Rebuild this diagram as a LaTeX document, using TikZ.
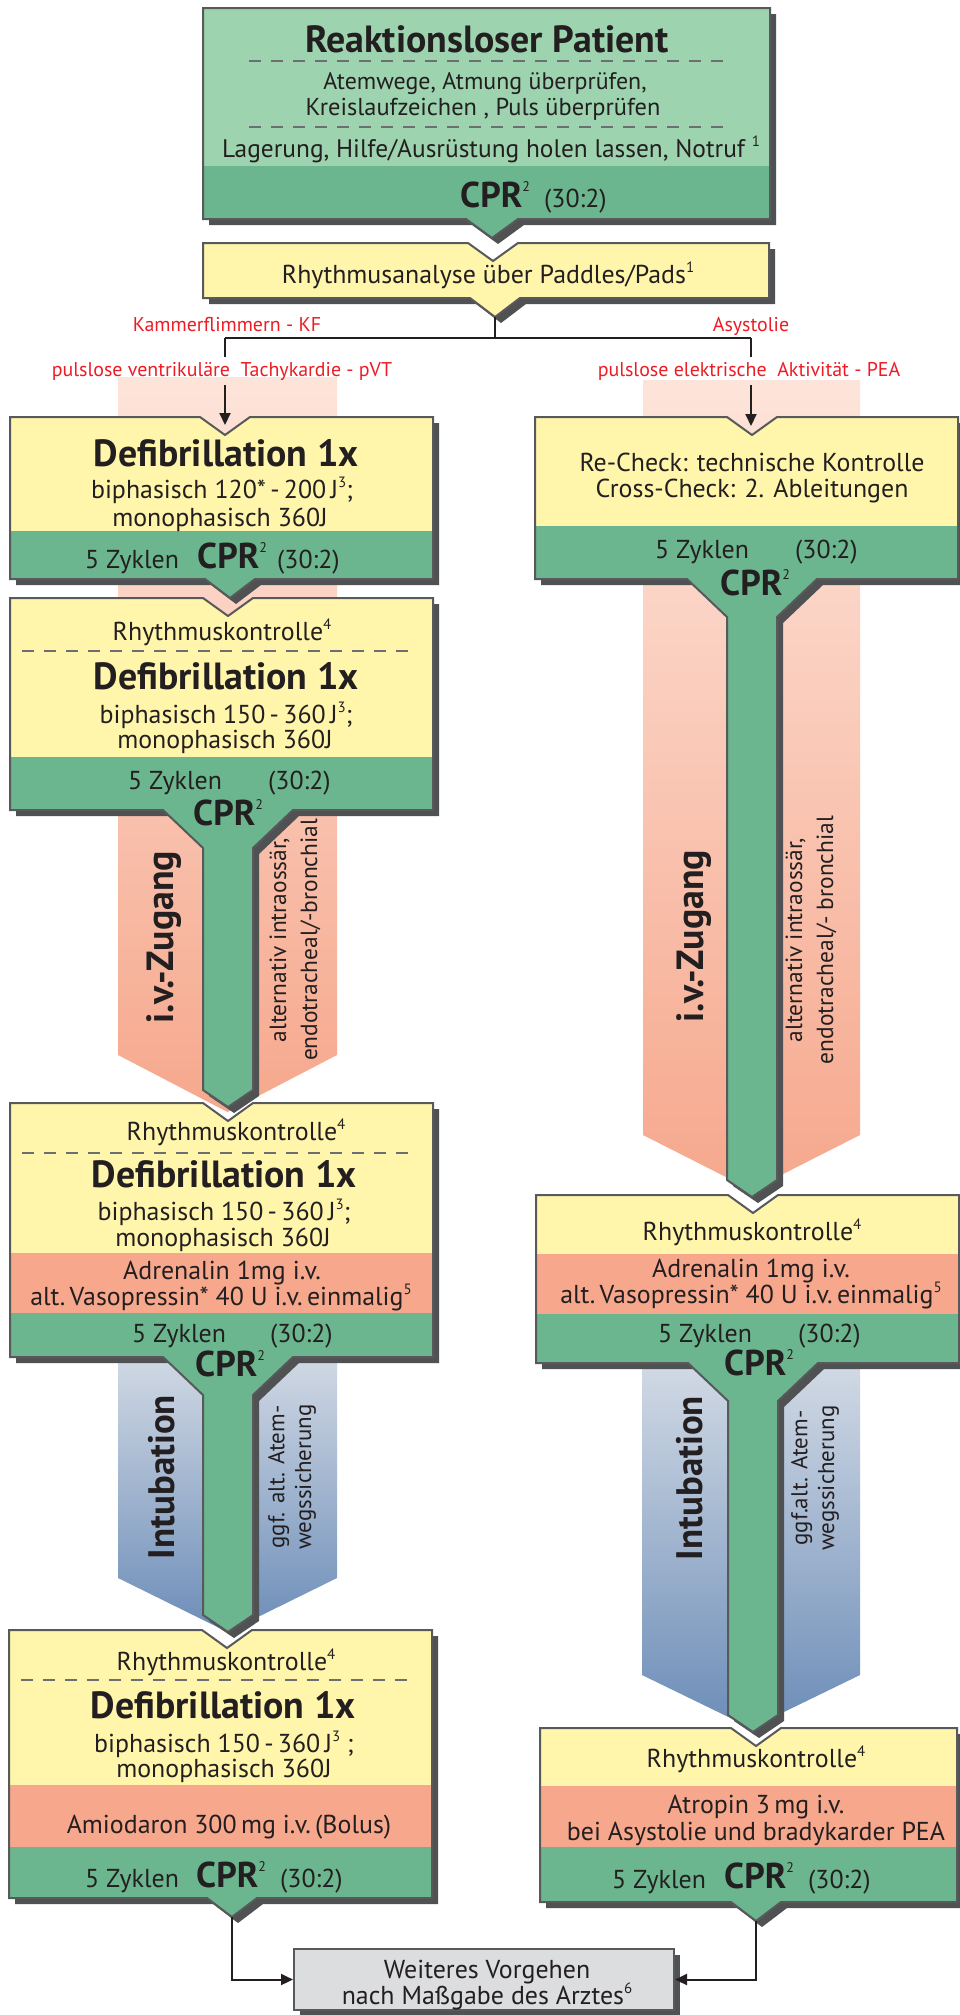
\documentclass[tikz,border=0pt]{standalone}
\usepackage{fontspec}
\setmainfont{PT Sans}
\usetikzlibrary{arrows.meta}
\definecolor{ylw}{HTML}{FFF6AC}
\definecolor{lgrn}{HTML}{9DD3AF}
\definecolor{dgrn}{HTML}{6BB68F}
\definecolor{pnk}{HTML}{F7A88C}
\definecolor{bord}{HTML}{58595B}
\definecolor{shd}{HTML}{505153}
\definecolor{redt}{HTML}{ED1C24}
\definecolor{gry}{HTML}{DCDDDE}
\definecolor{txt}{HTML}{231F20}
\definecolor{dashc}{HTML}{6D6E71}
\definecolor{bandPa}{HTML}{FDE4DA}
\definecolor{bandPb}{HTML}{F6A88D}
\definecolor{bandBa}{HTML}{D5DCE6}
\definecolor{bandBb}{HTML}{6C8DB8}
\newcommand{\fs}[1]{\fontsize{#1}{#1}\selectfont}
\newcommand{\sups}[1]{\raisebox{0.42em}{\fs{15}#1}}
\newcommand{\cpr}{{\fs{36}\bfseries CPR}\raisebox{16bp}{\fs{14}2}}
% plain top, triangle bottom: L R T B cx style
\newcommand{\pTri}[6]{\path[#6] (#1,#3) -- (#2,#3) -- (#2,#4) -- ({#5+26},#4) -- (#5,{#4+19}) -- ({#5-26},#4) -- (#1,#4) -- cycle;}
% notch top, triangle bottom: L R T B cxTop cxBot style
\newcommand{\pNTri}[7]{\path[#7] (#1,#3) -- ({#5-25},#3) -- (#5,{#3+18}) -- ({#5+25},#3) -- (#2,#3) -- (#2,#4) -- ({#6+25},#4) -- (#6,{#4+19}) -- ({#6-25},#4) -- (#1,#4) -- cycle;}
% notch top, funnel bottom: L R T B cx stemEnd style
\newcommand{\pNFun}[7]{\path[#7] (#1,#3) -- ({#5-25},#3) -- (#5,{#3+18}) -- ({#5+25},#3) -- (#2,#3) -- (#2,#4) -- ({#5+65},#4) -- ({#5+25},{#4+38}) -- ({#5+25},#6) -- (#5,{#6+17}) -- ({#5-25},#6) -- ({#5-25},{#4+38}) -- ({#5-65},#4) -- (#1,#4) -- cycle;}
% chevron band: L R T sideEnd pointY style
\newcommand{\pBand}[6]{\path[#6] (#1,#3) -- (#2,#3) -- (#2,#4) -- ({(#1+#2)/2},#5) -- (#1,#4) -- cycle;}
\begin{document}
\begin{tikzpicture}[x=1bp,y=-1bp,
  shadowst/.style={fill=shd, shift={(6,6)}},
  outl/.style={draw=bord, line width=2bp},
  dsh/.style={draw=dashc, line width=1.6bp, dash pattern=on 12bp off 10bp},
  conn/.style={draw=txt, line width=2bp},
  tipd/.style={-{Triangle[length=12bp,width=11bp]}},
  tx/.style={text=txt, inner sep=0pt, anchor=base, font=\fs{26}},
  txw/.style={text=txt, inner sep=0pt, anchor=base west, font=\fs{26}},
  ttl/.style={text=txt, inner sep=0pt, anchor=base, font=\fs{38}\bfseries},
  rd/.style={text=redt, inner xsep=0pt, inner ysep=5bp, anchor=base, font=\fs{20}},
  rotb/.style={text=txt, inner sep=0pt, rotate=90, font=\fs{38}\bfseries},
  rot/.style={text=txt, inner sep=0pt, rotate=90, align=center}]
\useasboundingbox (0,0) rectangle (960,2015);
\fill[white] (0,0) rectangle (960,2015);

% ---------- bands ----------
\pBand{118}{337}{377}{1055}{1112}{top color=bandPa, bottom color=bandPb}
\pBand{643}{860}{380}{1135}{1190}{top color=bandPa, bottom color=bandPb}
\pBand{118}{337}{1345}{1578}{1632}{top color=bandBa, bottom color=bandBb}
\pBand{642}{860}{1350}{1675}{1728}{top color=bandBa, bottom color=bandBb}

% ---------- top box ----------
\pTri{203}{770}{8}{219}{492}{shadowst}
\begin{scope}
\pTri{203}{770}{8}{219}{492}{clip}
\fill[lgrn] (0,0) rectangle (960,166);
\fill[dgrn] (0,166) rectangle (960,260);
\end{scope}
\pTri{203}{770}{8}{219}{492}{outl}

% ---------- rhythm analysis box ----------
\pNTri{203}{769}{243}{298}{493}{495}{shadowst}
\pNTri{203}{769}{243}{298}{493}{495}{fill=ylw}
\pNTri{203}{769}{243}{298}{493}{495}{outl}

% ---------- left column ----------
\pNTri{10}{433}{417}{579}{225}{230}{shadowst}
\begin{scope}
\pNTri{10}{433}{417}{579}{225}{230}{clip}
\fill[ylw] (0,400) rectangle (480,531);
\fill[dgrn] (0,531) rectangle (480,610);
\end{scope}
\pNTri{10}{433}{417}{579}{225}{230}{outl}

\pNFun{10}{433}{598}{810}{228}{1090}{shadowst}
\begin{scope}
\pNFun{10}{433}{598}{810}{228}{1090}{clip}
\fill[ylw] (0,590) rectangle (480,757);
\fill[dgrn] (0,757) rectangle (480,1120);
\end{scope}
\pNFun{10}{433}{598}{810}{228}{1090}{outl}

\pNFun{10}{433}{1103}{1357}{228}{1615}{shadowst}
\begin{scope}
\pNFun{10}{433}{1103}{1357}{228}{1615}{clip}
\fill[ylw] (0,1095) rectangle (480,1253);
\fill[pnk] (0,1253) rectangle (480,1313);
\fill[dgrn] (0,1313) rectangle (480,1640);
\end{scope}
\pNFun{10}{433}{1103}{1357}{228}{1615}{outl}

\pNTri{9}{432}{1630}{1898}{227}{232}{shadowst}
\begin{scope}
\pNTri{9}{432}{1630}{1898}{227}{232}{clip}
\fill[ylw] (0,1620) rectangle (480,1785);
\fill[pnk] (0,1785) rectangle (480,1847);
\fill[dgrn] (0,1847) rectangle (480,1925);
\end{scope}
\pNTri{9}{432}{1630}{1898}{227}{232}{outl}

% ---------- right column ----------
\pNFun{535}{958}{417}{579}{752}{1180}{shadowst}
\begin{scope}
\pNFun{535}{958}{417}{579}{752}{1180}{clip}
\fill[ylw] (480,400) rectangle (960,526);
\fill[dgrn] (480,526) rectangle (960,1200);
\end{scope}
\pNFun{535}{958}{417}{579}{752}{1180}{outl}

\pNFun{536}{959}{1195}{1363}{753}{1715}{shadowst}
\begin{scope}
\pNFun{536}{959}{1195}{1363}{753}{1715}{clip}
\fill[ylw] (480,1185) rectangle (960,1254);
\fill[pnk] (480,1254) rectangle (960,1314);
\fill[dgrn] (480,1314) rectangle (960,1740);
\end{scope}
\pNFun{536}{959}{1195}{1363}{753}{1715}{outl}

\pNTri{540}{957}{1728}{1902}{756}{756}{shadowst}
\begin{scope}
\pNTri{540}{957}{1728}{1902}{756}{756}{clip}
\fill[ylw] (480,1720) rectangle (960,1786);
\fill[pnk] (480,1786) rectangle (960,1847);
\fill[dgrn] (480,1847) rectangle (960,1930);
\end{scope}
\pNTri{540}{957}{1728}{1902}{756}{756}{outl}

% ---------- final box ----------
\fill[shd] (300,1955) rectangle (680,2016);
\node[draw=bord, line width=2bp, fill=gry, minimum width=380bp, minimum height=61bp, inner sep=0pt] (fin) at (484,1979.5) {};

% ---------- dashed separators ----------
\draw[dsh] (249,61) -- (726,61);
\draw[dsh] (249,127) -- (726,127);
\draw[dsh] (22,651) -- (417,651);
\draw[dsh] (22,1153) -- (417,1153);
\draw[dsh] (21,1680) -- (416,1680);

% ---------- texts: top ----------
\node[ttl] (t0title) at (487,52) {Reaktionsloser Patient};
\node[tx, font=\fs{24}] (t0a) at (485,89) {Atemwege, Atmung überprüfen,};
\node[tx, font=\fs{24.5}] (t0b) at (483,115) {Kreislaufzeichen , Puls überprüfen};
\node[tx, font=\fs{25.5}] (t0c) at (491,157) {Lagerung, Hilfe/Ausrüstung holen lassen, Notruf \sups{1}};
\node[txw] (t0cpr) at (460,207) {\cpr};
\node[txw] (t0ratio) at (544,207) {(30:2)};
\node[tx] (t1txt) at (488,283) {Rhythmusanalyse über Paddles/Pads\sups{1}};

\node[rd] (kf) at (227,331) {Kammerflimmern - KF};
\node[rd] (pvt) at (222,376) {pulslose ventrikuläre\ \ Tachykardie - pVT};
\node[rd] (asy) at (751,331) {Asystolie};
\node[rd] (pea) at (749,376) {pulslose elektrische\ \ Aktivität - PEA};

% ---------- texts: left column ----------
\node[ttl] (l1title) at (226,466) {Defibrillation 1x};
\node[tx] (l1a) at (222,498) {biphasisch 120*\,-\,200\,J\sups{3};};
\node[tx] (l1b) at (220,526) {monophasisch 360J};
\node[txw] (l1z) at (85,568) {5 Zyklen};
\node[txw] (l1cpr) at (197,568) {\cpr};
\node[txw] (l1r) at (277,568) {(30:2)};

\node[tx] (l2rk) at (222,640) {Rhythmuskontrolle\sups{4}};
\node[ttl] (l2title) at (226,689) {Defibrillation 1x};
\node[tx] (l2a) at (226,723) {biphasisch 150\,-\,360\,J\sups{3};};
\node[tx] (l2b) at (225,748) {monophasisch 360J};
\node[txw] (l2z) at (128,789) {5 Zyklen};
\node[txw] (l2r) at (268,789) {(30:2)};
\node[txw] (l2cpr) at (193,825) {\cpr};
\node[rotb] (l2iv) at (164,937) {i.v.-Zugang};
\node[rot, font=\fontsize{23.5}{31}\selectfont] (l2alt) at (295,940) {alternativ intraossär,\\endotracheal/-bronchial};

\node[tx] (l3rk) at (236,1140) {Rhythmuskontrolle\sups{4}};
\node[ttl] (l3title) at (224,1187) {Defibrillation 1x};
\node[tx] (l3a) at (224,1220) {biphasisch 150\,-\,360\,J\sups{3};};
\node[tx] (l3b) at (223,1246) {monophasisch 360J};
\node[tx] (l3c) at (222,1279) {Adrenalin 1mg i.v.};
\node[tx] (l3d) at (221,1305) {alt.\,Vasopressin* 40 U i.v.\,einmalig\sups{5}};
\node[txw] (l3z) at (132,1342) {5 Zyklen};
\node[txw] (l3r) at (270,1342) {(30:2)};
\node[txw] (l3cpr) at (195,1376) {\cpr};
\node[rotb, font=\fs{37}\bfseries] (l3int) at (162,1477) {Intubation};
\node[rot, font=\fontsize{23}{27}\selectfont] (l3alt) at (292,1477) {ggf. alt. Atem-\\wegssicherung};

\node[tx] (l4rk) at (226,1670) {Rhythmuskontrolle\sups{4}};
\node[ttl] (l4title) at (223,1718) {Defibrillation 1x};
\node[tx] (l4a) at (224,1752) {biphasisch 150\,-\,360\,J\sups{3} ;};
\node[tx] (l4b) at (224,1777) {monophasisch 360J};
\node[tx] (l4c) at (229,1833) {Amiodaron 300\,mg i.v.\,(Bolus)};
\node[txw] (l4z) at (85,1887) {5 Zyklen};
\node[txw] (l4cpr) at (196,1887) {\cpr};
\node[txw] (l4r) at (280,1887) {(30:2)};

% ---------- texts: right column ----------
\node[tx] (r1a) at (752,471) {Re-Check: technische Kontrolle};
\node[tx] (r1b) at (752,497) {Cross-Check: 2. Ableitungen};
\node[txw] (r1z) at (655,558) {5 Zyklen};
\node[txw] (r1r) at (795,558) {(30:2)};
\node[txw] (r1cpr) at (720,595) {\cpr};
\node[rotb] (r1iv) at (694,936) {i.v.-Zugang};
\node[rot, font=\fontsize{23.5}{31}\selectfont] (r1alt) at (811,940) {alternativ intraossär,\\endotracheal/- bronchial};

\node[tx] (r2rk) at (752,1240) {Rhythmuskontrolle\sups{4}};
\node[tx] (r2a) at (751,1277) {Adrenalin 1mg i.v.};
\node[tx] (r2b) at (751,1303) {alt.\,Vasopressin* 40 U i.v.\,einmalig\sups{5}};
\node[txw] (r2z) at (658,1342) {5 Zyklen};
\node[txw] (r2r) at (798,1342) {(30:2)};
\node[txw] (r2cpr) at (724,1375) {\cpr};
\node[rotb, font=\fs{37}\bfseries] (r2int) at (690,1478) {Intubation};
\node[rot, font=\fontsize{23}{27}\selectfont] (r2alt) at (815,1478) {ggf.alt. Atem-\\wegssicherung};

\node[tx] (r3rk) at (756,1767) {Rhythmuskontrolle\sups{4}};
\node[tx] (r3a) at (756,1813) {Atropin 3\,mg i.v.};
\node[tx] (r3b) at (756,1840) {bei Asystolie und bradykarder PEA};
\node[txw] (r3z) at (612,1888) {5 Zyklen};
\node[txw] (r3cpr) at (724,1888) {\cpr};
\node[txw] (r3r) at (808,1888) {(30:2)};

\node[tx] (fa) at (487,1978) {Weiteres Vorgehen};
\node[tx] (fb) at (487,2004) {nach Maßgabe des Arztes\sups{6}};

% ---------- connectors ----------
\coordinate (t1tip) at (495,317);
\coordinate (splitM) at (495,338);
\coordinate (splitL) at (225,338);
\coordinate (splitR) at (751,338);
\coordinate (l1in) at (225,425);
\coordinate (r1in) at (751,426);
\coordinate (l4tip) at (232,1917);
\coordinate (r3tip) at (756,1921);
\draw[conn] (t1tip) -- (splitM);
\draw[conn] (splitL) -- (splitR);
\draw[conn] (splitL) -- (splitL |- pvt.north);
\draw[conn, tipd] (splitL |- pvt.south) -- (l1in);
\draw[conn] (splitR) -- (splitR |- pea.north);
\draw[conn, tipd] (splitR |- pea.south) -- (r1in);
\draw[conn, tipd] (l4tip) |- (fin.west);
\draw[conn, tipd] (r3tip) |- (fin.east);
\end{tikzpicture}
\end{document}
